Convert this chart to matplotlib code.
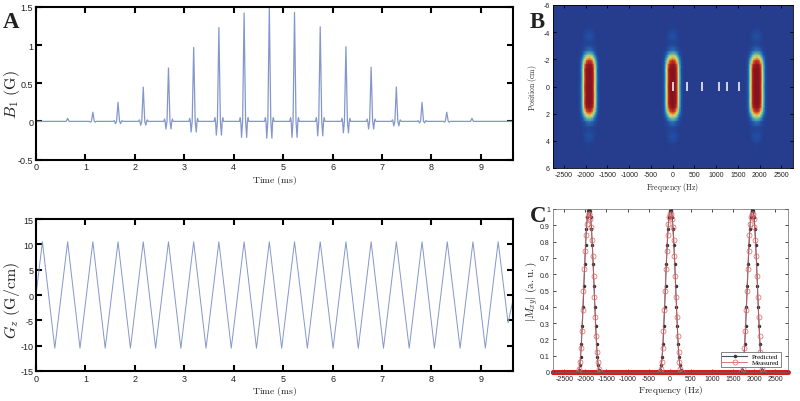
import matplotlib
matplotlib.use('Agg')
import matplotlib.pyplot as plt
from matplotlib.colors import LinearSegmentedColormap
import numpy as np

plt.rcParams['font.family'] = ['Liberation Sans', 'DejaVu Sans']
plt.rcParams['mathtext.fontset'] = 'cm'
plt.rcParams['axes.unicode_minus'] = False

# panel A, rf pulse: one row per sub-pulse
pulse_times = [0.64, 1.15, 1.66, 2.17, 2.68, 3.19, 3.70, 4.21, 4.72,
               5.23, 5.75, 6.27, 6.78, 7.29, 7.81, 8.31, 8.82]
pulse_peaks = [0.04, 0.12, 0.25, 0.45, 0.70, 0.97, 1.23, 1.42, 1.50,
               1.43, 1.24, 0.98, 0.71, 0.45, 0.25, 0.12, 0.04]
pulse_dips = [0.0, 0.01, 0.03, 0.05, 0.10, 0.14, 0.18, 0.21, 0.22,
              0.21, 0.19, 0.15, 0.10, 0.06, 0.02, 0.01, 0.0]
pulse_sides = [0.0, 0.0, 0.01, 0.02, 0.03, 0.04, 0.05, 0.05, 0.05,
               0.05, 0.05, 0.04, 0.03, 0.02, 0.01, 0.0, 0.0]
lobe_offsets = [-0.095, -0.08, -0.067, -0.052, -0.03, 0.0, 0.03, 0.052, 0.067, 0.08, 0.095]

# panel A, gradient corners
gz_times = [0, 0.13, 0.38, 0.64, 0.89, 1.15, 1.40, 1.66, 1.91, 2.17, 2.42, 2.68,
            2.93, 3.19, 3.44, 3.70, 3.95, 4.21, 4.46, 4.72, 4.97, 5.23, 5.49,
            5.75, 6.01, 6.27, 6.52, 6.78, 7.03, 7.29, 7.55, 7.81, 8.06, 8.32,
            8.58, 8.84, 9.09, 9.35, 9.55, 9.65]
gz_values = [0, 10.5, -10.5, 10.5, -10.5, 10.5, -10.5, 10.5, -10.5, 10.5, -10.5, 10.5,
             -10.5, 10.5, -10.5, 10.5, -10.5, 10.5, -10.5, 10.5, -10.5, 10.5, -10.5,
             10.5, -10.5, 10.5, -10.5, 10.5, -10.5, 10.5, -10.5, 10.5, -10.5, 10.5,
             -10.5, 10.5, -10.5, 10.5, -5.5, -1.0]

# panel B, excitation map: one blob as rows over |position|, columns over |offset|
map_centers = [-1917, 0, 1932]
map_offsets = [0, 60, 100, 130, 160, 200, 250, 300]
map_positions = [0, 1.3, 1.6, 1.9, 2.1, 2.3, 2.6, 3, 3.3, 3.7, 4.2, 5, 6]
blob_rows = [
    [1.00, 0.98, 0.85, 0.62, 0.36, 0.12, 0.02, 0],
    [1.00, 0.97, 0.84, 0.60, 0.35, 0.12, 0.02, 0],
    [0.97, 0.92, 0.78, 0.55, 0.32, 0.11, 0.02, 0],
    [0.85, 0.78, 0.62, 0.42, 0.25, 0.09, 0.01, 0],
    [0.68, 0.60, 0.45, 0.30, 0.18, 0.07, 0.01, 0],
    [0.48, 0.42, 0.30, 0.20, 0.12, 0.05, 0.01, 0],
    [0.20, 0.17, 0.13, 0.09, 0.05, 0.02, 0, 0],
    [0.06, 0.05, 0.04, 0.03, 0.02, 0.01, 0, 0],
    [0.05, 0.04, 0.03, 0.02, 0.01, 0, 0, 0],
    [0.11, 0.10, 0.07, 0.04, 0.02, 0, 0, 0],
    [0.03, 0.02, 0.01, 0, 0, 0, 0, 0],
    [0, 0, 0, 0, 0, 0, 0, 0],
    [0, 0, 0, 0, 0, 0, 0, 0],
]
marker_freqs = [0, 337, 682, 1066, 1258, 1526]

# panel C, slice profiles
profile_centers = [-1915, 20, 1960]
predicted_offsets = [-280, -240, -220, -200, -180, -160, -140, -120, -100, -80, -60, -40, -20, 0,
                     20, 40, 60, 80, 100, 120, 140, 160, 180, 200, 220, 240, 280]
predicted_mag = [0, 0.01, 0.04, 0.09, 0.17, 0.28, 0.40, 0.53, 0.66, 0.78, 0.88, 0.95, 0.99, 1,
                 0.99, 0.95, 0.88, 0.78, 0.66, 0.53, 0.40, 0.28, 0.17, 0.09, 0.04, 0.01, 0]
measured_offsets = [-260, -230, -210, -190, -170, -150, -130, -110, -90, -70, -50, -30, -10,
                    10, 30, 50, 70, 90, 110, 130, 150, 170, 190, 210, 230, 260]
measured_mag = [0, 0.02, 0.06, 0.15, 0.25, 0.38, 0.50, 0.63, 0.74, 0.84, 0.91, 0.95, 0.97,
                0.97, 0.94, 0.89, 0.81, 0.71, 0.59, 0.46, 0.34, 0.22, 0.12, 0.06, 0.02, 0]
baseline_freqs = np.arange(-2775, 2805, 8)

blue = '#8497cc'
dark = '#222222'
jet_muted = LinearSegmentedColormap.from_list('jet_muted', [
    (0.0, '#263c8c'), (0.12, '#1f55aa'), (0.35, '#48bed2'), (0.5, '#aad778'),
    (0.62, '#fae650'), (0.75, '#eb782d'), (0.87, '#be1e28'), (1.0, '#82141e')])


def place(left, top, right, bottom):
    return fig.add_axes([left / 800, 1 - bottom / 402, (right - left) / 800, (bottom - top) / 402])


def style(ax, width, length, size):
    for spine in ax.spines.values():
        spine.set_linewidth(width)
    ax.tick_params(direction='in', top=True, right=True, width=width, length=length,
                   labelsize=size, labelcolor=dark, pad=2)


fig = plt.figure(figsize=(8, 4.02), dpi=100)

# A top
ax = place(36, 8, 513, 160.5)
times = []
values = []
for c, p, d, s in zip(pulse_times, pulse_peaks, pulse_dips, pulse_sides):
    times += [c + o for o in lobe_offsets]
    values += [0, s, 0, -d, 0, p, 0, -d, 0, s, 0]
ax.plot([0] + times + [9.65], [0] + values + [0], color=blue, lw=0.9)
ax.set_xlim(0, 9.65)
ax.set_ylim(-0.5, 1.5)
ax.set_xticks(range(10))
ax.set_yticks([-0.5, 0, 0.5, 1, 1.5])
ax.set_yticklabels(['-0.5', '0', '0.5', '1', '1.5'])
style(ax, 1.5, 4, 6.5)
ax.set_xlabel(r'$\mathrm{Time\ (ms)}$', fontsize=7, labelpad=1, color=dark)
ax.set_ylabel(r'$B_1\ \mathrm{(G)}$', fontsize=11.5, color=dark)
ax.yaxis.set_label_coords(-0.029, 0.43)

# A bottom
ax = place(36, 220, 513, 372)
ax.plot(gz_times, gz_values, color=blue, lw=0.7)
ax.set_xlim(0, 9.65)
ax.set_ylim(-15, 15)
ax.set_xticks(range(10))
ax.set_yticks([-15, -10, -5, 0, 5, 10, 15])
style(ax, 1.5, 4, 6.5)
ax.set_xlabel(r'$\mathrm{Time\ (ms)}$', fontsize=7, labelpad=1, color=dark)
ax.set_ylabel(r'$G_z\ \mathrm{(G/cm)}$', fontsize=11.5, color=dark)
ax.yaxis.set_label_coords(-0.029, 0.47)

# B
ax = place(552.7, 6, 792.7, 169)
signed_offsets = [-o for o in map_offsets[:0:-1]] + map_offsets
map_freqs = np.array([-2760] + [c + o for c in map_centers for o in signed_offsets] + [2760])
signed_positions = np.array([-p for p in map_positions[:0:-1]] + map_positions)
rows = blob_rows[:0:-1] + blob_rows
map_values = np.array([[0] + (row[:0:-1] + row) * len(map_centers) + [0] for row in rows])
ax.pcolormesh(map_freqs, signed_positions, map_values, shading='gouraud', cmap=jet_muted,
              vmin=0, vmax=1)
ax.vlines(marker_freqs, -0.32, 0.32, color='white', lw=1.1)
ax.set_xlim(-2760, 2760)
ax.set_ylim(6, -6)
ax.set_xticks(range(-2500, 3000, 500))
ax.set_yticks(range(-6, 8, 2))
style(ax, 0.6, 2, 5)
ax.set_xlabel(r'$\mathrm{Frequency\ (Hz)}$', fontsize=5.5, labelpad=1.5, color=dark)
ax.set_ylabel(r'$\mathrm{Position\ (cm)}$', fontsize=5.5, color=dark)
ax.yaxis.set_label_coords(-0.057, 0.5)

# C
ax = place(552.7, 210, 788, 373)
pred_f = [-2775] + [c + o for c in profile_centers for o in predicted_offsets] + [2805]
pred_m = [0] + predicted_mag * len(profile_centers) + [0]
ax.plot(baseline_freqs, np.zeros(len(baseline_freqs)), color='#d91c1c', marker='o', ms=2.8,
        mfc='none', mew=0.7, lw=0.5, clip_on=False)
ax.plot(pred_f, pred_m, color='#445566', lw=0.8, marker='.', ms=3, mfc='#333333',
        mec='#333333', label='Predicted')
for c in profile_centers:
    ax.plot([c + o for o in measured_offsets], measured_mag, color='#e06060', lw=0.5, marker='o',
            ms=3.6, mfc='none', mew=0.5)
ax.plot([], [], color='#e06060', lw=0.6, marker='o', ms=3.6, mfc='none', mew=0.5, label='Measured')
ax.set_xlim(-2775, 2805)
ax.set_ylim(0, 1)
ax.set_xticks(range(-2500, 3000, 500))
ax.set_yticks(np.arange(0, 1.05, 0.1))
ax.set_yticklabels(['0', '0.1', '0.2', '0.3', '0.4', '0.5', '0.6', '0.7', '0.8', '0.9', '1'])
style(ax, 0.5, 2, 5)
for spine in ax.spines.values():
    spine.set_color('#666666')
ax.set_xlabel(r'$\mathrm{Frequency\ (Hz)}$', fontsize=6.8, labelpad=1, color=dark)
ax.set_ylabel(r'$|M_{xy}|\ \mathrm{(a.u.)}$', fontsize=8, color=dark)
ax.yaxis.set_label_coords(-0.056, 0.5)
leg = ax.legend(loc='lower right', borderpad=0.2, labelspacing=0, handlelength=3.5,
                bbox_to_anchor=(0.985, 0.012), fancybox=False, framealpha=1, edgecolor='#555555',
                prop={'family': 'Liberation Serif', 'size': 5})
leg.get_frame().set_linewidth(0.5)

for letter, x, y in [('A', 3, 28), ('B', 530, 28), ('C', 530, 222)]:
    fig.text(x / 800, 1 - y / 402, letter, fontsize=16.5, fontweight='bold',
             family='Liberation Serif', color='#222222')

fig.savefig('out.png', dpi=100)
